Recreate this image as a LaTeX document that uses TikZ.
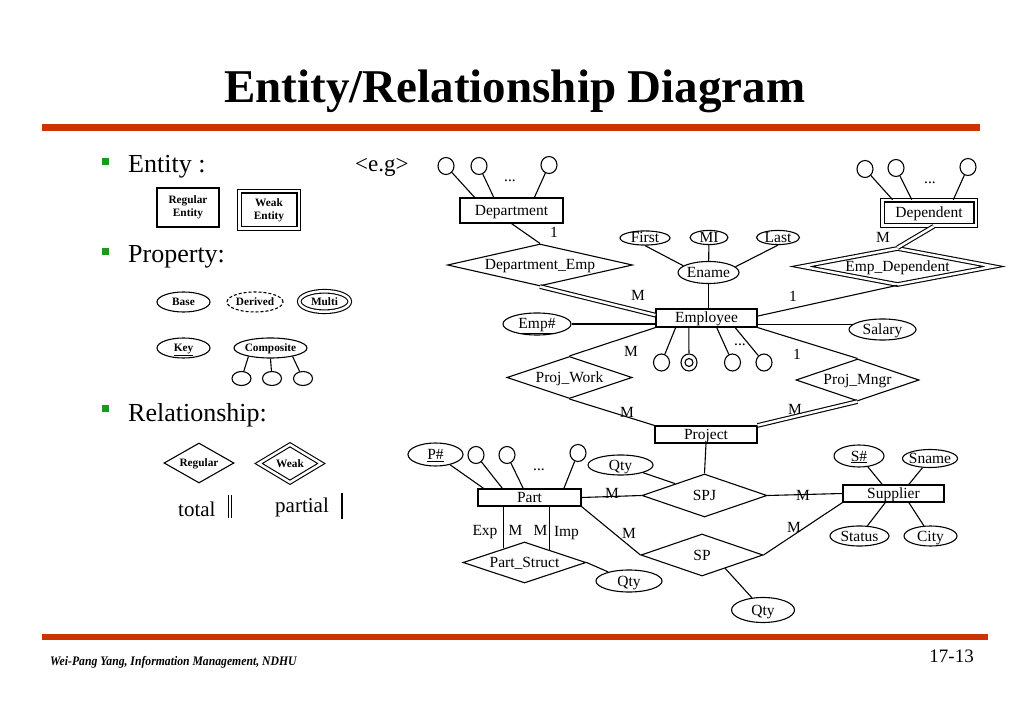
\documentclass[tikz,border=0pt]{standalone}
\usepackage{fontspec}
\setmainfont{Liberation Serif}
\usepackage{tikz}
\usetikzlibrary{shapes.geometric,calc}
\definecolor{rust}{HTML}{CC3300}
\definecolor{leaf}{HTML}{1A9A1A}
\newcommand\erfont{\fontsize{15.5}{17}\selectfont}
\newcommand\lgfont{\fontsize{11.3}{13}\selectfont\bfseries}
\newcommand\hdfont{\fontsize{26}{30}\selectfont}
\tikzset{link/.style={line width=1.1pt},twin/.style={double,double distance=2.5pt},ent/.style={draw,link,rectangle,inner sep=0pt,text height=10pt,text depth=0pt,font=\erfont},rel/.style={ent,diamond},att/.style={ent,ellipse,inner xsep=-6pt},dot/.style={draw,link,ellipse,inner sep=0pt,minimum width=16pt,minimum height=17pt},card/.style={inner sep=0pt,text height=10pt,text depth=0pt,font=\erfont},lbox/.style={draw,link,inner sep=0pt,font=\lgfont,align=center},latt/.style={att,font=\lgfont,text height=7.5pt},lrel/.style={rel,font=\lgfont,text height=7.5pt}}

\begin{document}
\begin{tikzpicture}[x=1pt,y=-1pt]
\fill[white] (0,0) rectangle (1023,708);
\useasboundingbox (0,0) rectangle (1023,708);
\node[anchor=base,font=\fontsize{47}{50}\selectfont\bfseries] (title) at (515,103) {Entity/Relationship Diagram};
\fill[rust] (42,124) rectangle (980,131);
\fill[rust] (42,634) rectangle (988,640);
\node[anchor=base west,inner sep=0pt,font=\fontsize{13}{15}\selectfont\bfseries\itshape] (foot) at (50,665) {\scalebox{0.9}[1]{Wei-Pang Yang, Information Management, NDHU}};
\node[anchor=base east,inner sep=0pt,font=\fontsize{19}{20}\selectfont] (page) at (974,662) {17-13};

\foreach \n/\y/\b/\t in {ent/162/173/{Entity :},prop/252/263/{Property:},rel/409/422/{Relationship:}}{
  \node[fill=leaf,minimum size=7pt,inner sep=0pt] (sq\n) at (105.5,\y) {};
  \node[anchor=base west,font=\hdfont,inner sep=0pt] (hd\n) at (128,\b) {\t};}
\node[anchor=base west,font=\fontsize{23}{26}\selectfont,inner sep=0pt] (eg) at (355,172) {<e.g>};

\node[lbox,minimum width=62pt,minimum height=39pt] (regent) at (188,207.5) {Regular\\Entity};
\node[lbox,twin,minimum width=59.5pt,minimum height=37.5pt] (weakent) at (269,210) {Weak\\Entity};
\node[latt,minimum width=53pt,minimum height=20pt] (base) at (183.5,302) {Base};
\node[latt,dash pattern=on 3pt off 2pt,minimum width=56pt,minimum height=20pt] (derived) at (255,302) {Derived};
\node[latt,twin,minimum width=50.5pt,minimum height=20.5pt] (multi) at (324.5,301.5) {Multi};
\node[latt,minimum width=53pt,minimum height=20pt] (key) at (183.5,348) {\underline{Key}};
\node[latt,minimum width=73pt,minimum height=20pt] (comp) at (270.5,348) {Composite};
\foreach \n/\x in {k1/241.5,k2/272,k3/303} \node[dot,minimum width=19pt,minimum height=14pt] (\n) at (\x,378.5) {};
\draw[link] (comp.-159) -- (k1);
\draw[link] (comp.south) -- (k2);
\draw[link] (comp.-21) -- (k3);
\node[lrel,aspect=1.75,minimum width=70pt,minimum height=40pt] (regrel) at (199,463) {Regular};
\node[lrel,twin,aspect=1.7,minimum width=63pt,minimum height=38pt] (weakrel) at (290,463.5) {Weak};
\node[anchor=base west,font=\fontsize{21}{24}\selectfont,inner sep=0pt] (total) at (178,516) {total};
\node[anchor=base west,font=\fontsize{21}{24}\selectfont,inner sep=0pt] (partial) at (275,512) {partial};
\draw[link,twin] (230,495) -- (230,518);
\draw[link] (342,493) -- (342,519);

\node[ent,minimum width=103pt,minimum height=25pt] (dept) at (511.5,210.5) {Department};
\node[ent,twin,minimum width=93.5pt,minimum height=25.5pt] (dep) at (929,213) {Dependent};
\node[rel,aspect=4.4,minimum width=185pt,minimum height=42pt] (deptemp) at (540,265) {Department\_Emp};
\node[rel,twin,aspect=5.2,minimum width=192pt,minimum height=36.5pt] (empdep) at (897.5,266.5) {Emp\_Dependent};
\node[ent,minimum width=101pt,minimum height=18pt] (emp) at (706.5,318) {Employee};
\node[att,minimum width=61pt,minimum height=22pt] (ename) at (708.5,272.5) {Ename};
\node[att,minimum width=50pt,minimum height=14pt] (first) at (645,238) {First};
\node[att,minimum width=38pt,minimum height=14pt] (mi) at (709,237.5) {MI};
\node[att,minimum width=43pt,minimum height=14pt] (last) at (778,237.5) {Last};
\node[att,minimum width=68pt,minimum height=22pt] (empno) at (537,324) {\underline{Emp\#}};
\node[att,minimum width=67pt,minimum height=21pt] (salary) at (882.5,329.5) {Salary};
\node[rel,aspect=3,minimum width=125pt,minimum height=42pt] (projwork) at (569.5,377.5) {Proj\_Work};
\node[rel,aspect=2.9,minimum width=123pt,minimum height=42pt] (projmngr) at (857.5,380) {Proj\_Mngr};
\node[ent,minimum width=102pt,minimum height=17pt] (proj) at (706,434.5) {Project};
\node[rel,aspect=2.9,minimum width=125pt,minimum height=43pt] (spj) at (704.5,495.5) {SPJ};
\node[rel,aspect=2.9,minimum width=122pt,minimum height=42pt] (sp) at (702,555) {SP};
\node[ent,minimum width=103pt,minimum height=17pt] (part) at (529.5,497.5) {Part};
\node[ent,minimum width=101pt,minimum height=17pt] (supp) at (893.5,493.5) {Supplier};
\node[rel,aspect=3,minimum width=123pt,minimum height=41pt] (partst) at (524.5,562.5) {Part\_Struct};
\node[att,minimum width=65pt,minimum height=20pt] (qspj) at (620.5,465) {Qty};
\node[att,minimum width=63pt,minimum height=25pt] (qsp) at (763,610) {Qty};
\node[att,minimum width=66pt,minimum height=22pt] (qps) at (629,581) {Qty};
\node[att,minimum width=55pt,minimum height=23pt] (pno) at (435.5,454.5) {\underline{P\#}};
\node[att,minimum width=50pt,minimum height=22pt] (sno) at (859,456) {\underline{S\#}};
\node[att,minimum width=55pt,minimum height=18pt] (sname) at (930,458.5) {Sname};
\node[att,minimum width=59pt,minimum height=20pt] (status) at (859.5,536) {Status};
\node[att,minimum width=53pt,minimum height=20pt] (city) at (930.5,536) {City};

\foreach \n/\x/\y in {d1/446/166,d2/479/166,d3/549/165,e1/865/169,e2/896/168,e3/968/167,b1/661.5/362.5,b2/689/362.5,b3/732.5/362.5,b4/764/362.5,p1/476/455,p2/507/455,p3/578/453}
  \node[dot] (\n) at (\x,\y) {};
\node[dot,minimum width=8pt,minimum height=8pt] (b2i) at (b2) {};
\foreach \n/\x/\y in {dd/510/182,de/930/184,dm/740/346,dp/539/471}
  \node[anchor=base,font=\erfont,inner sep=0pt] (\n) at (\x,\y) {...};

\foreach \c/\f in {d1/.146,d2/.33,d3/.72} \draw[link] (\c) -- ($(dept.north west)!\f!(dept.north east)$);
\foreach \c/\f in {e1/.115,e2/.318,e3/.757} \draw[link] (\c) -- ($(dep.north west)!\f!(dep.north east)$);
\foreach \c/\f in {b1/.198,b2/.327,b3/.6,b4/.78} \draw[link] (\c) -- ($(emp.south west)!\f!(emp.south east)$);
\foreach \c/\f in {pno/.06,p1/.24,p2/.44,p3/.83} \draw[link] (\c) -- ($(part.north west)!\f!(part.north east)$);
\foreach \c/\f in {sno/.39,sname/.65} \draw[link] (\c) -- ($(supp.north west)!\f!(supp.north east)$);
\foreach \c/\f in {status/.42,city/.65} \draw[link] (\c) -- ($(supp.south west)!\f!(supp.south east)$);

\draw[link] (dept.south) -- (deptemp.north);
\draw[link,twin] (deptemp.south) -- ($(emp.north west)!.35!(emp.south west)$);
\draw[link,twin] ($(dep.south west)!.55!(dep.south east)$) -- (empdep.north);
\draw[link] ($(emp.north east)!.4!(emp.south east)$) -- (empdep.south);
\draw[link] (first.south) -- (ename.165);
\draw[link] (mi) -- (ename);
\draw[link] (last.south) -- (ename.12);
\draw[link] (ename) -- (ename |- emp.north);
\draw[link] (empno) -- (empno -| emp.west);
\draw[link] (salary.170) -- (salary.170 -| emp.east);
\draw[link] (projwork.north) -- (emp.south west);
\draw[link] (projwork.south) -- (proj.north west);
\draw[link] (projmngr.north) -- (emp.south east);
\draw[link,twin] (projmngr.south) -- (proj.north east);
\draw[link] (proj.south) -- (spj.north);
\draw[link] (part.east) -- (spj.west);
\draw[link] (spj.east) -- (supp.west);
\draw[link] (qspj) -- (spj.158);
\draw[link] (part.south east) -- (sp.west);
\draw[link] (sp.east) -- (supp.south west);
\draw[link] (sp.-30) -- (qsp);
\draw[link] (partst.146 |- part.south) -- (partst.146);
\draw[link] (partst.27 |- part.south) -- (partst.27);
\draw[link] (partst.east) -- (qps);

\foreach \n/\x/\y/\t in {c1/554/233/1,c2/638/296/M,c3/793/297/1,c4/883/238/M,c5/631/352/M,c6/797/355/1,c7/627/413/M,c8/795/410/M,c9/612/493/M,c10/803/495/M,c11/629/533/M,c12/794/527/M,c13/485/530/Exp,c14/515.5/530/M,c15/540.5/530/M,c16/566.5/531/Imp}
  \node[card] (\n) at (\x,\y) {\t};
\end{tikzpicture}
\end{document}
